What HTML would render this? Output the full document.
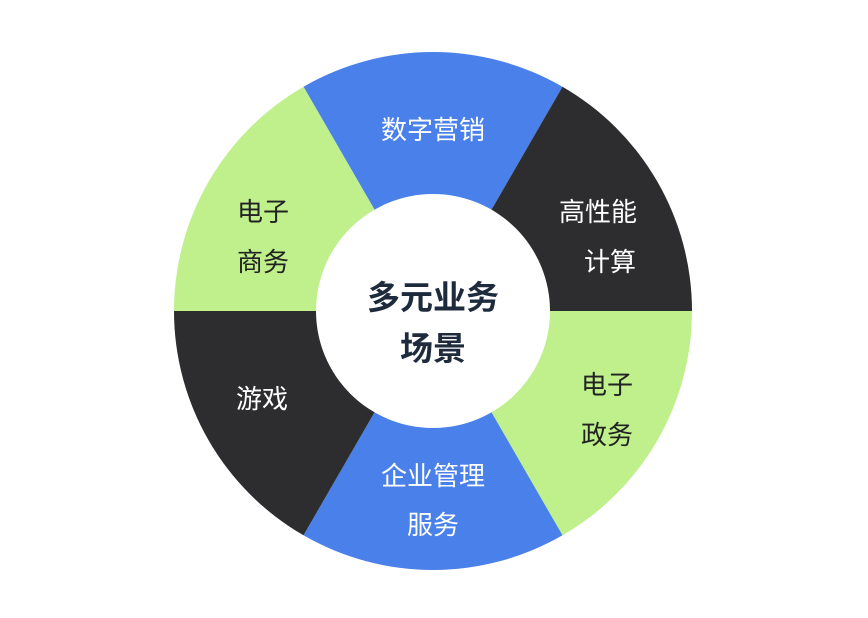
<!DOCTYPE html>
<html><head><meta charset="utf-8"><style>
html,body{margin:0;padding:0;background:#fff;width:868px;height:618px;overflow:hidden}
svg text{font-family:"Liberation Sans","Noto Sans CJK SC",sans-serif}
</style></head><body>
<svg width="868" height="618" viewBox="0 0 868 618">
<g stroke="none">
<path d="M433,311 L303.5,86.7 A259,259 0 0 1 562.5,86.7 Z" fill="#4a80ea"/>
<path d="M433,311 L562.5,86.7 A259,259 0 0 1 692,311 Z" fill="#2d2d2f"/>
<path d="M433,311 L692,311 A259,259 0 0 1 562.5,535.3 Z" fill="#bff08b"/>
<path d="M433,311 L562.5,535.3 A259,259 0 0 1 303.5,535.3 Z" fill="#4a80ea"/>
<path d="M433,311 L303.5,535.3 A259,259 0 0 1 174,311 Z" fill="#2d2d2f"/>
<path d="M433,311 L174,311 A259,259 0 0 1 303.5,86.7 Z" fill="#bff08b"/>
<circle cx="433" cy="311" r="117" fill="#fff"/>
</g>
<g font-size="26" text-anchor="middle">
<text x="433" y="139" fill="#fff">数字营销</text>
<text x="598" y="221" fill="#fff">高性能</text>
<text x="610" y="271" fill="#fff">计算</text>
<text x="263" y="221" fill="#222">电子</text>
<text x="263" y="271" fill="#222">商务</text>
<text x="262" y="408" fill="#fff">游戏</text>
<text x="607" y="394" fill="#222">电子</text>
<text x="607" y="444" fill="#222">政务</text>
<text x="433" y="485" fill="#fff">企业管理</text>
<text x="433" y="534" fill="#fff">服务</text>
</g>
<g font-size="33" font-weight="bold" text-anchor="middle" fill="#1e2b3c">
<text x="433" y="309">多元业务</text>
<text x="433" y="360">场景</text>
</g>
</svg>
</body></html>
